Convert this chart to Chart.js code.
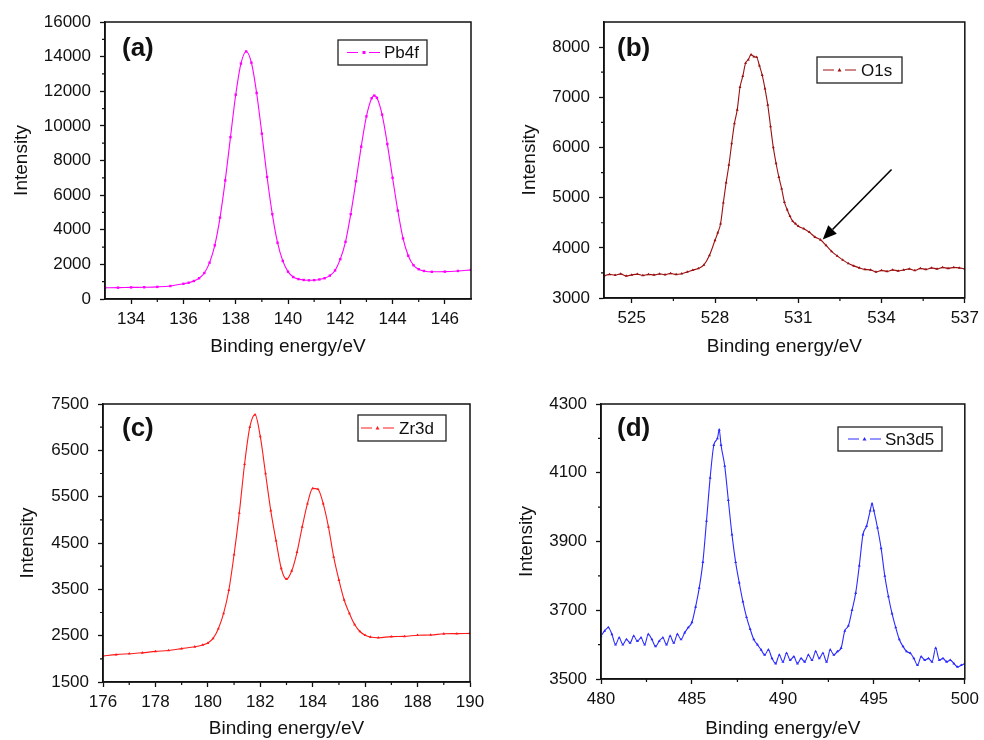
<!DOCTYPE html>
<html>
<head>
<meta charset="utf-8">
<script src="https://cdn.jsdelivr.net/npm/chart.js@4.4.1/dist/chart.umd.min.js"></script>
<style>
  html, body { margin: 0; padding: 0; background: #fff; }
  #wrap { position: relative; width: 984px; height: 740px; }
  canvas { position: absolute; }
</style>
</head>
<body>
<div id="wrap">
  <canvas id="chartA" width="492" height="370" style="left:0;top:0"></canvas>
  <canvas id="chartB" width="492" height="370" style="left:492px;top:0"></canvas>
  <canvas id="chartC" width="492" height="370" style="left:0;top:370px"></canvas>
  <canvas id="chartD" width="492" height="370" style="left:492px;top:370px"></canvas>
</div>
<script>
// ===== DADOS =====
// (a) Pb4f
const pbEnergy = [133.0, 133.5, 134.0, 134.5, 135.0, 135.5,
  136.0, 136.2, 136.4, 136.6, 136.8, 137.0, 137.2, 137.4, 137.6, 137.8,
  138.0, 138.2, 138.4, 138.6, 138.8, 139.0, 139.2, 139.4, 139.6, 139.8,
  140.0, 140.2, 140.4, 140.6, 140.8, 141.0, 141.2, 141.4, 141.6, 141.8,
  142.0, 142.2, 142.4, 142.6, 142.8, 143.0, 143.2, 143.3, 143.4, 143.6, 143.8,
  144.0, 144.2, 144.4, 144.6, 144.8, 145.0, 145.2, 145.5, 146.0, 146.5, 147.0];
const pbCounts = [650, 655, 670, 680, 700, 750,
  880, 940, 1040, 1200, 1500, 2100, 3100, 4700, 6850, 9350,
  11800, 13600, 14300, 13650, 11900, 9550, 7050, 4900, 3250, 2200,
  1580, 1270, 1150, 1100, 1080, 1090, 1130, 1200, 1350, 1650,
  2300, 3300, 4900, 6800, 8800, 10550, 11600, 11750, 11620, 10650, 8950,
  7000, 5100, 3500, 2500, 1950, 1720, 1620, 1570, 1580, 1620, 1680];
const pbXTicks = [134, 136, 138, 140, 142, 144, 146];
const pbYTicks = [0, 2000, 4000, 6000, 8000, 10000, 12000, 14000, 16000];

// (b) O1s
const oEnergy = [524.0, 524.2, 524.4, 524.6, 524.8, 525.0, 525.2, 525.4, 525.6, 525.8,
  526.0, 526.2, 526.4, 526.6, 526.8, 527.0, 527.2, 527.4, 527.6, 527.8,
  528.0, 528.1, 528.2, 528.3, 528.4, 528.5, 528.6, 528.7, 528.8, 528.9,
  529.0, 529.1, 529.2, 529.3, 529.4, 529.5, 529.6, 529.7, 529.8, 529.9,
  530.0, 530.1, 530.2, 530.3, 530.4, 530.5, 530.6, 530.7, 530.8, 530.9,
  531.0, 531.2, 531.4, 531.6, 531.8, 532.0, 532.2, 532.4, 532.6, 532.8,
  533.0, 533.2, 533.4, 533.6, 533.8, 534.0, 534.2, 534.4, 534.6, 534.8,
  535.0, 535.2, 535.4, 535.6, 535.8, 536.0, 536.2, 536.4, 536.6, 536.8, 537.0];
const oCounts = [3440, 3470, 3455, 3480, 3440, 3460, 3475, 3450, 3470, 3460,
  3480, 3465, 3490, 3470, 3485, 3520, 3555, 3590, 3660, 3850,
  4150, 4300, 4480, 4900, 5300, 5650, 6080, 6480, 6750, 7200,
  7420, 7680, 7750, 7850, 7810, 7800, 7630, 7440, 7170, 6850,
  6420, 6000, 5680, 5410, 5180, 4910, 4760, 4630, 4530, 4480,
  4430, 4380, 4310, 4215, 4160, 4050, 3930, 3840, 3760, 3690,
  3640, 3600, 3570, 3560, 3520, 3550, 3530, 3560, 3540, 3560,
  3580, 3550, 3590, 3570, 3600, 3580, 3610, 3590, 3610, 3600, 3580];
const oXTicks = [525, 528, 531, 534, 537];
const oYTicks = [3000, 4000, 5000, 6000, 7000, 8000];

// (c) Zr3d
const zrEnergy = [176.0, 176.5, 177.0, 177.5, 178.0, 178.5, 179.0, 179.5, 179.8,
  180.0, 180.2, 180.4, 180.6, 180.8, 181.0, 181.2, 181.4, 181.6, 181.8,
  182.0, 182.2, 182.4, 182.6, 182.8, 183.0, 183.2, 183.4, 183.6, 183.8,
  184.0, 184.2, 184.4, 184.6, 184.8, 185.0, 185.2, 185.4, 185.6, 185.8,
  186.0, 186.2, 186.5, 187.0, 187.5, 188.0, 188.5, 189.0, 189.5, 190.0];
const zrCounts = [2060, 2090, 2110, 2130, 2160, 2180, 2220, 2260, 2300,
  2340, 2440, 2650, 2980, 3480, 4250, 5150, 6200, 7000, 7270,
  6800, 6000, 5200, 4550, 3950, 3720, 3900, 4300, 4850, 5350,
  5680, 5660, 5350, 4850, 4200, 3700, 3270, 2980, 2740, 2590,
  2510, 2470, 2455, 2480, 2485, 2510, 2515, 2540, 2545, 2550];
const zrXTicks = [176, 178, 180, 182, 184, 186, 188, 190];
const zrYTicks = [1500, 2500, 3500, 4500, 5500, 6500, 7500];

// (d) Sn3d5
const snEnergy = [480.0, 480.2, 480.4, 480.6, 480.8, 481.0, 481.2, 481.4, 481.6, 481.8,
  482.0, 482.2, 482.4, 482.6, 482.8, 483.0, 483.2, 483.4, 483.6, 483.8,
  484.0, 484.2, 484.4, 484.6, 484.8, 485.0, 485.2, 485.4, 485.6, 485.8,
  486.0, 486.2, 486.4, 486.5, 486.6, 486.8, 487.0, 487.2, 487.4, 487.6, 487.8,
  488.0, 488.2, 488.4, 488.6, 488.8, 489.0, 489.2, 489.4, 489.6, 489.8,
  490.0, 490.2, 490.4, 490.6, 490.8, 491.0, 491.2, 491.4, 491.6, 491.8,
  492.0, 492.2, 492.4, 492.6, 492.8, 493.0, 493.2, 493.4, 493.6, 493.8,
  494.0, 494.2, 494.4, 494.6, 494.8, 494.9, 495.0, 495.2, 495.4, 495.6, 495.8,
  496.0, 496.2, 496.4, 496.6, 496.8, 497.0, 497.2, 497.4, 497.6, 497.8,
  498.0, 498.2, 498.4, 498.6, 498.8, 499.0, 499.2, 499.4, 499.6, 499.8, 500.0];
const snCounts = [3625, 3640, 3650, 3630, 3600, 3620, 3600, 3615, 3605, 3625,
  3610, 3620, 3600, 3630, 3615, 3595, 3610, 3620, 3600, 3625,
  3605, 3630, 3615, 3635, 3650, 3665, 3710, 3765, 3840, 3960,
  4085, 4180, 4200, 4225, 4180, 4120, 4020, 3920, 3840, 3780, 3725,
  3680, 3645, 3615, 3600, 3585, 3570, 3585, 3560, 3545, 3570,
  3550, 3575, 3555, 3565, 3545, 3560, 3550, 3570, 3555, 3580,
  3560, 3575, 3550, 3585, 3570, 3580, 3590, 3640, 3655, 3700,
  3750, 3830, 3920, 3945, 3990, 4010, 3990, 3940, 3880, 3800, 3740,
  3690, 3650, 3615, 3595, 3580, 3575, 3560, 3540, 3565, 3555,
  3560, 3550, 3590, 3555, 3560, 3550, 3555, 3545, 3535, 3540, 3545];
const snXTicks = [480, 485, 490, 495, 500];
const snYTicks = [3500, 3700, 3900, 4100, 4300];

// ===== CONFIGURAÇÃO DOS PAINÉIS =====
const FONT = '"Liberation Sans", Arial, sans-serif';
const INK = '#111';

const panels = [
  { id: 'chartA', name: 'Pb4f', tag: '(a)', energy: pbEnergy, counts: pbCounts,
    color: '#ff00ff', point: 'rect', xMin: 133, xMax: 147, yMin: 0, yMax: 16000,
    xTicks: pbXTicks, yTicks: pbYTicks, xMinor: 1, yMinor: 1000,
    top: 22, right: 21, yWidth: 105, xHeight: 71, yTitlePad: 10, xTitlePad: 12,
    tagDx: 17, tagDy: 27,
    legend: { dx: 233, dy: 18, w: 89, h: 25, lineDx: 9, textDx: 46 } },
  { id: 'chartB', name: 'O1s', tag: '(b)', energy: oEnergy, counts: oCounts,
    color: '#9b1111', point: 'triangle', xMin: 524, xMax: 537, yMin: 3000, yMax: 8500,
    xTicks: oXTicks, yTicks: oYTicks, xMinor: 1.5, yMinor: 500,
    top: 22, right: 14, yWidth: 112, xHeight: 72, yTitlePad: 26, xTitlePad: 12,
    tagDx: 13, tagDy: 27,
    legend: { dx: 213, dy: 35, w: 85, h: 26, lineDx: 6, textDx: 44 },
    arrow: { fromX: 534.36, fromY: 5560, toX: 531.88, toY: 4165 } },
  { id: 'chartC', name: 'Zr3d', tag: '(c)', energy: zrEnergy, counts: zrCounts,
    color: '#ff1a1a', point: 'triangle', xMin: 176, xMax: 190, yMin: 1500, yMax: 7500,
    xTicks: zrXTicks, yTicks: zrYTicks, xMinor: 1, yMinor: 500,
    top: 34, right: 22, yWidth: 103, xHeight: 58, yTitlePad: 16, xTitlePad: 0,
    tagDx: 19, tagDy: 25,
    legend: { dx: 255, dy: 11, w: 88, h: 26, lineDx: 3, textDx: 41 } },
  { id: 'chartD', name: 'Sn3d5', tag: '(d)', energy: snEnergy, counts: snCounts,
    color: '#2b2bff', point: 'triangle', xMin: 480, xMax: 500, yMin: 3500, yMax: 4300,
    xTicks: snXTicks, yTicks: snYTicks, xMinor: 2.5, yMinor: 100,
    top: 34, right: 16, yWidth: 109, xHeight: 61, yTitlePad: 23, xTitlePad: 0,
    tagDx: 16, tagDy: 25,
    legend: { dx: 237, dy: 23, w: 104, h: 24, lineDx: 10, textDx: 47 } }
];

// ===== MARCAS MENORES, MOLDURA, RÓTULOS E LEGENDA =====
function minorValues(scale, step, majors) {
  const out = [];
  let v = Math.ceil(scale.min / step - 1e-9) * step;
  for (; v < scale.max - 1e-9; v += step) {
    if (v <= scale.min + 1e-9) continue;
    if (majors.some(m => Math.abs(m - v) < 1e-6)) continue;
    out.push(v);
  }
  return out;
}

const decorPlugin = {
  id: 'decor',
  afterDraw(chart) {
    const p = panels.find(q => q.id === chart.canvas.id);
    const ctx = chart.ctx;
    const a = chart.chartArea;
    const xs = chart.scales.x, ys = chart.scales.y;
    ctx.save();

    // moldura
    ctx.strokeStyle = INK;
    ctx.lineWidth = 1.5;
    ctx.strokeRect(a.left, a.top, a.right - a.left, a.bottom - a.top);

    // marcas menores
    ctx.lineWidth = 1.2;
    ctx.beginPath();
    minorValues(xs, p.xMinor, p.xTicks).forEach(v => {
      const px = xs.getPixelForValue(v);
      ctx.moveTo(px, a.bottom);
      ctx.lineTo(px, a.bottom + 3);
    });
    minorValues(ys, p.yMinor, p.yTicks).forEach(v => {
      const py = ys.getPixelForValue(v);
      ctx.moveTo(a.left, py);
      ctx.lineTo(a.left - 3, py);
    });
    ctx.stroke();

    // rótulo do painel
    ctx.fillStyle = INK;
    ctx.font = 'bold 26px ' + FONT;
    ctx.textAlign = 'left';
    ctx.textBaseline = 'middle';
    ctx.fillText(p.tag, a.left + p.tagDx, a.top + p.tagDy);

    // legenda
    const L = p.legend;
    const bx = a.left + L.dx, by = a.top + L.dy;
    ctx.fillStyle = '#fff';
    ctx.fillRect(bx, by, L.w, L.h);
    ctx.strokeStyle = '#222';
    ctx.lineWidth = 1.3;
    ctx.strokeRect(bx, by, L.w, L.h);
    const cy = by + L.h / 2;
    const lx = bx + L.lineDx;
    ctx.strokeStyle = p.color;
    ctx.lineWidth = 1;
    ctx.beginPath();
    ctx.moveTo(lx, cy); ctx.lineTo(lx + 11, cy);
    ctx.moveTo(lx + 22, cy); ctx.lineTo(lx + 33, cy);
    ctx.stroke();
    ctx.fillStyle = p.color;
    if (p.point === 'rect') {
      ctx.fillRect(lx + 15.5, cy - 1.5, 3, 3);
    } else {
      ctx.beginPath();
      ctx.moveTo(lx + 16.5, cy - 2);
      ctx.lineTo(lx + 18.5, cy + 1.5);
      ctx.lineTo(lx + 14.5, cy + 1.5);
      ctx.closePath();
      ctx.fill();
    }
    ctx.fillStyle = INK;
    ctx.font = '17px ' + FONT;
    ctx.fillText(p.name, bx + L.textDx, cy + 1);

    // seta (painel b)
    if (p.arrow) {
      const x0 = xs.getPixelForValue(p.arrow.fromX), y0 = ys.getPixelForValue(p.arrow.fromY);
      const x1 = xs.getPixelForValue(p.arrow.toX), y1 = ys.getPixelForValue(p.arrow.toY);
      const ang = Math.atan2(y1 - y0, x1 - x0);
      const head = 14, half = 6;
      const bxh = x1 - head * Math.cos(ang), byh = y1 - head * Math.sin(ang);
      ctx.strokeStyle = '#000';
      ctx.lineWidth = 1.6;
      ctx.beginPath();
      ctx.moveTo(x0, y0);
      ctx.lineTo(bxh, byh);
      ctx.stroke();
      ctx.fillStyle = '#000';
      ctx.beginPath();
      ctx.moveTo(x1, y1);
      ctx.lineTo(bxh + half * Math.sin(ang), byh - half * Math.cos(ang));
      ctx.lineTo(bxh - half * Math.sin(ang), byh + half * Math.cos(ang));
      ctx.closePath();
      ctx.fill();
    }
    ctx.restore();
  }
};

// ===== MONTAR OS GRÁFICOS =====
function montarPainel(p) {
  const ctx = document.getElementById(p.id);
  return new Chart(ctx, {
    type: 'line',
    data: {
      datasets: [{
        label: p.name,
        data: p.energy.map((e, i) => ({ x: e, y: p.counts[i] })),
        borderColor: p.color,
        backgroundColor: p.color,
        borderWidth: 1.1,
        pointStyle: p.point,
        pointRadius: 1.7,
        pointBorderWidth: 0,
        pointBackgroundColor: p.color,
        cubicInterpolationMode: 'monotone',
        fill: false
      }]
    },
    options: {
      responsive: false,
      devicePixelRatio: 1,
      animation: false,
      layout: { padding: { top: p.top, right: p.right, left: 0, bottom: 0 }, autoPadding: false },
      plugins: { legend: { display: false }, tooltip: { enabled: false } },
      scales: {
        x: {
          type: 'linear', min: p.xMin, max: p.xMax, bounds: 'data',
          afterBuildTicks: s => { s.ticks = p.xTicks.map(v => ({ value: v })); },
          afterFit: s => { s.height = p.xHeight; },
          ticks: { color: INK, font: { size: 17, family: FONT }, padding: 5, maxRotation: 0, autoSkip: false,
                   callback: v => String(v) },
          grid: { drawOnChartArea: false, tickLength: 5, tickColor: INK, tickWidth: 1.3 },
          border: { color: INK, width: 1.5 },
          title: { display: true, text: 'Binding energy/eV', color: INK,
                   font: { size: 19, family: FONT }, padding: { top: 0, bottom: p.xTitlePad } }
        },
        y: {
          type: 'linear', min: p.yMin, max: p.yMax, bounds: 'data',
          afterBuildTicks: s => { s.ticks = p.yTicks.map(v => ({ value: v })); },
          afterFit: s => { s.width = p.yWidth; },
          ticks: { color: INK, font: { size: 17, family: FONT }, padding: 9, autoSkip: false,
                   callback: v => String(v) },
          grid: { drawOnChartArea: false, tickLength: 5, tickColor: INK, tickWidth: 1.3 },
          border: { color: INK, width: 1.5 },
          title: { display: true, text: 'Intensity', color: INK,
                   font: { size: 19, family: FONT }, padding: { top: p.yTitlePad, bottom: 0 } }
        }
      }
    },
    plugins: [decorPlugin]
  });
}

panels.forEach(montarPainel);
</script>
</body>
</html>
